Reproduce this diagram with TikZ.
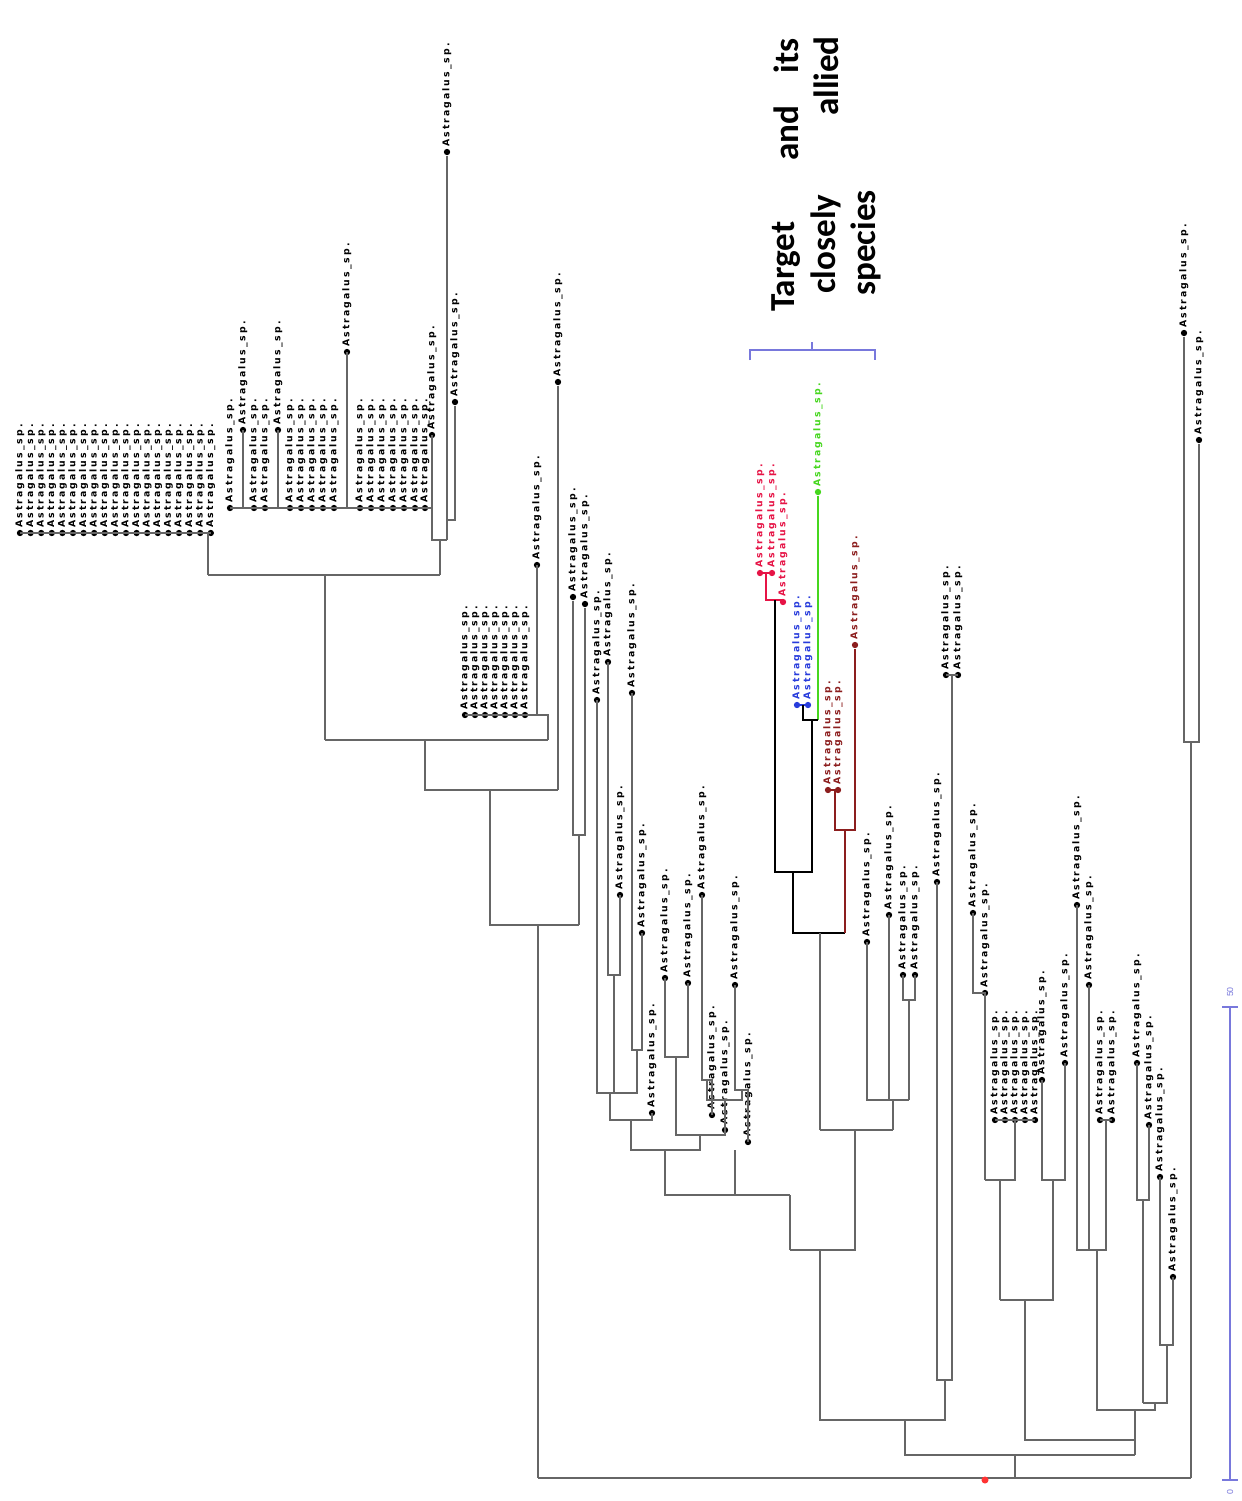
\documentclass[tikz,border=0pt]{standalone}
\usepackage{fontspec}
\setmainfont{Liberation Sans}
\newfontfamily\headfont{Carlito}
\newfontfamily\tipfont[LetterSpace=22]{DejaVu Sans}

\definecolor{tgtred}{RGB}{230,20,70}
\definecolor{tgtblue}{RGB}{40,60,220}
\definecolor{tgtgreen}{RGB}{70,215,30}
\definecolor{tgtbrown}{RGB}{140,30,30}
\definecolor{barblue}{RGB}{120,120,220}

\tikzset{
  branch/.style={draw=black!60, line width=0.7pt},
  tipdot/.style={circle, fill=black, inner sep=0pt, minimum size=3.6pt},
  tiplab/.style={rotate=90, anchor=west, inner sep=0.8pt,
                 font=\tipfont\bfseries\fontsize{5.3}{6}\selectfont},
  headword/.style={rotate=90, font=\headfont\bfseries\fontsize{20}{22}\selectfont},
}
% one tip: dot plus upright label
\newcommand{\taxon}[4][black]{%
  \node[tipdot, fill=#1] (#2) at (#3,#4) {};
  \node[tiplab, text=#1] at (#2.north) {Astragalus\_sp.};}

\begin{document}
\begin{tikzpicture}[x=0.02cm, y=-0.02cm]
  \useasboundingbox[fill=white] (0,0) rectangle (1241,1501);

  % Clade A (comb, top left)
  \foreach \i in {0,...,18} {\taxon{a\i}{20+10.6*\i}{533}}
  \draw[branch] (20,533) -- (211,533);
  \draw[branch] (208,533) -- (208,575);

  % Clade B
  \foreach \x/\y [count=\i] in {230/508,243/430,254/508,265/508,278/430,290/508,
      301/508,312/508,323/508,334/508,347/352,360/508,371/508,382/508,393/508,
      404/508,415/508,425/508,432/435}
    {\taxon{b\i}{\x}{\y} \draw[branch] (\x,\y) -- (\x,508);}
  \draw[branch] (230,508) -- (432,508) -- (432,540) -- (447,540);
  \taxon{oxy}{447}{152}
  \draw[branch] (oxy) -- (447,540);
  \taxon{b20}{455}{402}
  \draw[branch] (b20) |- (447,520);
  \draw[branch] (440,540) -- (440,575);
  \draw[branch] (208,575) -- (440,575);
  \draw[branch] (325,575) -- (325,740);

  % Clade C
  \foreach \x/\y [count=\i] in {465/715,475/715,485/715,495/715,505/715,515/715,
      525/715,537/565}
    {\taxon{c\i}{\x}{\y} \draw[branch] (\x,\y) -- (\x,715);}
  \draw[branch] (465,715) -- (548,715) -- (548,740);
  \draw[branch] (325,740) -- (548,740);
  \draw[branch] (425,740) -- (425,790) -- (558,790);
  \taxon{c9}{558}{382}
  \draw[branch] (c9) -- (558,790);
  \draw[branch] (490,790) -- (490,925) -- (579,925);
  \taxon{c10}{573}{597}
  \taxon{c11}{585}{604}
  \draw[branch] (c10) |- (585,835) -- (c11);
  \draw[branch] (579,835) -- (579,925);
  \draw[branch] (538,925) -- (538,1478);

  % Clade D (middle)
  \foreach \x/\y [count=\i] in {597/700,608/662,620/895,632/693,642/933,652/1113,
      665/978,688/983,702/895,712/1115,725/1130,735/985,748/1142}
    {\taxon{d\i}{\x}{\y}}
  \draw[branch] (608,662) |- (620,975) -- (620,895);
  \draw[branch] (632,693) |- (642,1050) -- (642,933);
  \draw[branch] (614,975) |- (637,1093) -- (637,1050);
  \draw[branch] (597,700) |- (625,1093);
  \draw[branch] (610,1093) |- (652,1120) -- (652,1113);
  \draw[branch] (665,978) |- (688,1057) -- (688,983);
  \draw[branch] (702,895) |- (712,1080) -- (712,1115);
  \draw[branch] (735,985) |- (748,1090) -- (748,1142);
  \draw[branch] (676,1057) |- (725,1135) -- (725,1130);
  \draw[branch] (631,1120) |- (700,1150) -- (700,1135);
  \draw[branch] (707,1080) -- (707,1100) -- (742,1100) -- (742,1090);
  \draw[branch] (725,1100) -- (725,1130);
  \draw[branch] (665,1150) |- (790,1195);
  \draw[branch] (735,1150) -- (735,1195);

  % Target clade and its allied species
  \taxon[tgtred]{r1}{760}{573}
  \taxon[tgtred]{r2}{772}{573}
  \taxon[tgtred]{r3}{783}{602}
  \draw[tgtred, line width=0.8pt] (760,573) -- (772,573);
  \draw[tgtred, line width=0.8pt] (766,573) |- (783,600);
  \taxon[tgtblue]{u1}{797}{705}
  \taxon[tgtblue]{u2}{808}{705}
  \draw[tgtblue, line width=0.8pt] (797,705) -- (808,705);
  \taxon[tgtgreen]{g1}{818}{492}
  \draw[tgtgreen, line width=1pt] (g1) -- (818,720);
  \draw[line width=1.4pt] (775,600) -- (775,872) -- (812,872) -- (812,720);
  \draw[line width=1.4pt] (803,705) |- (818,720);
  \draw[line width=1.4pt] (793,872) -- (793,933) -- (845,933);
  \taxon[tgtbrown]{w1}{855}{645}
  \taxon[tgtbrown]{w2}{828}{790}
  \taxon[tgtbrown]{w3}{838}{790}
  \draw[tgtbrown, line width=1pt] (828,790) -- (838,790);
  \draw[tgtbrown, line width=1pt] (835,790) |- (855,830) -- (w1);
  \draw[tgtbrown, line width=1pt] (845,830) -- (845,933);
  \draw[branch] (820,933) -- (820,1130);

  % allied taxa
  \foreach \x/\y [count=\i] in {867/942,889/915,903/975,915/975,937/882,
      946/675,958/675}
    {\taxon{e\i}{\x}{\y}}
  \draw[branch] (867,942) |- (889,1100) -- (889,915);
  \draw[branch] (903,975) |- (915,1000) -- (915,975);
  \draw[branch] (909,1000) -- (909,1100);
  \draw[branch] (878,1100) -- (909,1100);
  \draw[branch] (820,1130) -- (893,1130);
  \draw[branch] (893,1100) -- (893,1130);
  \draw[branch] (855,1130) |- (790,1250);
  \draw[branch] (790,1195) -- (790,1250);
  \draw[branch] (946,675) -- (958,675);
  \draw[branch] (937,882) |- (952,1380) -- (952,675);
  \draw[branch] (820,1250) |- (945,1420) -- (945,1380);
  \draw[branch] (905,1420) |- (1135,1455);
  \draw[branch] (1015,1455) -- (1015,1478);

  % Clade E (right)
  \foreach \x/\y [count=\i] in {973/913,985/993,995/1120,1005/1120,1015/1120,
      1025/1120,1035/1120,1042/1080,1065/1063,1077/905,1089/985,1100/1120,
      1112/1120,1137/1063,1149/1125,1160/1177,1173/1277}
    {\taxon{f\i}{\x}{\y}}
  \draw[branch] (973,913) |- (985,993) -- (985,1180);
  \draw[branch] (995,1120) -- (1035,1120);
  \draw[branch] (1015,1120) -- (1015,1180) -- (985,1180);
  \draw[branch] (1000,1180) -- (1000,1300);
  \draw[branch] (1042,1080) |- (1065,1180) -- (1065,1063);
  \draw[branch] (1053,1180) -- (1053,1300) -- (1000,1300);
  \draw[branch] (1077,905) |- (1089,1250) -- (1089,985);
  \draw[branch] (1100,1120) -- (1112,1120);
  \draw[branch] (1106,1120) -- (1106,1250) -- (1089,1250);
  \draw[branch] (1137,1063) |- (1149,1200) -- (1149,1125);
  \draw[branch] (1160,1177) |- (1173,1345) -- (1173,1277);
  \draw[branch] (1143,1200) -- (1143,1403);
  \draw[branch] (1167,1345) -- (1167,1403) -- (1143,1403);
  \draw[branch] (1097,1250) |- (1155,1410) -- (1155,1403);
  \draw[branch] (1025,1300) |- (1135,1440) -- (1135,1410);
  \draw[branch] (1135,1440) -- (1135,1455);

  % Outgroup
  \taxon{o1}{1184}{333}
  \taxon{o2}{1199}{440}
  \draw[branch] (o1) |- (1199,742) -- (o2);
  \draw[branch] (1191,742) -- (1191,1478);

  % Root
  \draw[branch] (538,1478) -- (1191,1478);
  \fill[red!80] (985,1480) circle (2pt);

  % Bracket and heading
  \draw[barblue, line width=0.8pt] (750,360) -- (750,350) -- (875,350) -- (875,360);
  \draw[barblue, line width=0.8pt] (812,350) -- (812,342);
  \node[headword, anchor=west] (h1) at (786,318) {Target};
  \node[headword] (h2) at (786,133) {and};
  \node[headword, anchor=east] (h3) at (786,32) {its};
  \node[headword, anchor=west] (h4) at (826,300) {closely};
  \node[headword, anchor=east] (h5) at (826,30) {allied};
  \node[headword, anchor=west] (h6) at (866,302) {species};

  % Scale bar
  \draw[barblue, line width=0.8pt] (1222,1007) -- (1238,1007);
  \draw[barblue, line width=0.8pt] (1230,1007) -- (1230,1480);
  \draw[barblue, line width=0.8pt] (1222,1480) -- (1238,1480);
  \node[rotate=90, text=barblue, font=\fontsize{5}{6}\selectfont] (s1) at (1230,992) {50};
  \node[rotate=90, text=barblue, font=\fontsize{5}{6}\selectfont] (s0) at (1230,1492) {0};
\end{tikzpicture}
\end{document}
